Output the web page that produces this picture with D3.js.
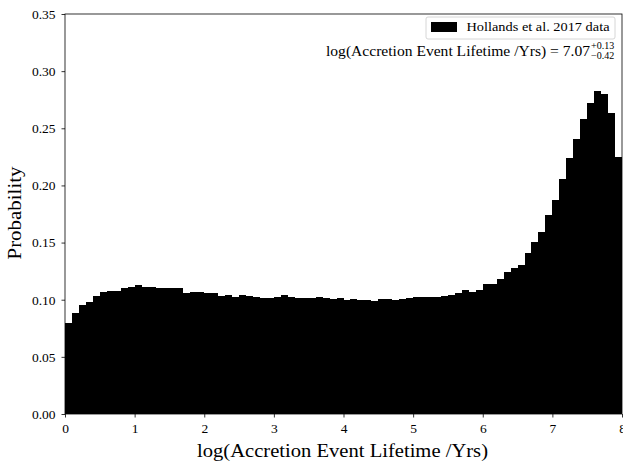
<!DOCTYPE html>
<html>
<head>
<meta charset="utf-8">
<script src="https://cdn.jsdelivr.net/npm/d3@7"></script>
<style>
  html, body { margin: 0; padding: 0; background: #fff; }
  svg { display: block; }
  text { font-family: "Liberation Serif", "DejaVu Serif", serif; fill: #000; }
</style>
</head>
<body>
<svg id="chart" width="623" height="467"></svg>
<script>
// ---- data ----
const binWidth = 0.1;
const binStarts = d3.range(80).map(i => +(i * binWidth).toFixed(1));
const probability = [
  0.080, 0.088, 0.095, 0.098, 0.1035, 0.1064, 0.1073, 0.1076, 0.110, 0.1108,
  0.1129, 0.1114, 0.111, 0.110, 0.1105, 0.110, 0.110, 0.1059, 0.1064, 0.107,
  0.1059, 0.106, 0.1035, 0.1044, 0.1026, 0.1044, 0.1035, 0.1023, 0.1015, 0.1015,
  0.1026, 0.1041, 0.102, 0.1018, 0.1015, 0.1015, 0.102, 0.1015, 0.1003, 0.1015,
  0.0997, 0.1009, 0.100, 0.0997, 0.0991, 0.1009, 0.1003, 0.0997, 0.1009, 0.1012,
  0.1026, 0.1026, 0.1026, 0.1026, 0.103, 0.1044, 0.1055, 0.1085, 0.107, 0.1088,
  0.1137, 0.1137, 0.1181, 0.124, 0.1278, 0.1304, 0.141, 0.1506, 0.1596, 0.1737,
  0.1874, 0.2053, 0.2243, 0.241, 0.2585, 0.2722, 0.2825, 0.2804, 0.2637, 0.2249
];
const xTicks = [0, 1, 2, 3, 4, 5, 6, 7, 8];
const yTicks = [0.00, 0.05, 0.10, 0.15, 0.20, 0.25, 0.30, 0.35];
const legendLabel = "Hollands et al. 2017 data";
const annotMain = "log(Accretion Event Lifetime /Yrs) = 7.07";
const annotSup = "+0.13";
const annotSub = "\u22120.42";
const xLabel = "log(Accretion Event Lifetime /Yrs)";
const yLabel = "Probability";

// ---- layout ----
const mLeft = 65, mRight = 622, mTop = 14, mBottom = 414;
const svg = d3.select("#chart");
const x = d3.scaleLinear().domain([0, 8]).range([mLeft, mRight]);
const y = d3.scaleLinear().domain([0, 0.35]).range([mBottom, mTop]);

// bars
svg.append("g").attr("shape-rendering", "crispEdges")
  .selectAll("rect").data(probability).join("rect")
  .attr("x", (d, i) => x(binStarts[i]))
  .attr("width", (d, i) => x(binStarts[i] + binWidth) - x(binStarts[i]))
  .attr("y", d => y(d))
  .attr("height", d => y(0) - y(d))
  .attr("fill", "#000");

// axes
const tickFont = "13.5px";
const xAxis = svg.append("g").attr("transform", `translate(0,${mBottom})`)
  .call(d3.axisBottom(x).tickValues(xTicks).tickFormat(d3.format("d")).tickSize(3.5).tickPadding(6));
const yAxis = svg.append("g").attr("transform", `translate(${mLeft},0)`)
  .call(d3.axisLeft(y).tickValues(yTicks).tickFormat(d3.format(".2f")).tickSize(3.5).tickPadding(6));
[xAxis, yAxis].forEach(a => {
  a.select(".domain").remove();
  a.selectAll(".tick line").attr("stroke", "#000").attr("stroke-width", 0.8);
  a.selectAll(".tick text").attr("font-family", "Liberation Serif").attr("font-size", tickFont).attr("fill", "#000");
});

// frame
svg.append("rect")
  .attr("x", mLeft).attr("y", mTop)
  .attr("width", mRight - mLeft).attr("height", mBottom - mTop)
  .attr("fill", "none").attr("stroke", "#000").attr("stroke-width", 0.8);

// axis labels
svg.append("text").attr("x", 342.5).attr("y", 457)
  .attr("text-anchor", "middle").attr("font-size", "18px")
  .attr("textLength", 291).attr("lengthAdjust", "spacingAndGlyphs").text(xLabel);
svg.append("text")
  .attr("transform", `translate(20.5,213) rotate(-90)`)
  .attr("text-anchor", "middle").attr("font-size", "18px")
  .attr("textLength", 93).attr("lengthAdjust", "spacingAndGlyphs").text(yLabel);

// legend
const lg = svg.append("g");
lg.append("rect").attr("x", 426).attr("y", 17).attr("width", 189).attr("height", 22)
  .attr("rx", 2).attr("fill", "#fff").attr("stroke", "#ccc").attr("stroke-width", 0.8);
lg.append("rect").attr("x", 431).attr("y", 22).attr("width", 26).attr("height", 10).attr("fill", "#000");
lg.append("text").attr("x", 466.5).attr("y", 31).attr("font-size", "13px")
  .attr("textLength", 143).attr("lengthAdjust", "spacingAndGlyphs").text(legendLabel);

// annotation with super/subscripts
const g = svg.append("g");
g.append("text").attr("x", 326).attr("y", 55.5).attr("font-size", "14.5px")
  .attr("textLength", 264).attr("lengthAdjust", "spacingAndGlyphs").text(annotMain);
g.append("text").attr("x", 591).attr("y", 49).attr("font-size", "10px").text(annotSup);
g.append("text").attr("x", 591).attr("y", 58.5).attr("font-size", "10px").text(annotSub);
</script>
</body>
</html>
